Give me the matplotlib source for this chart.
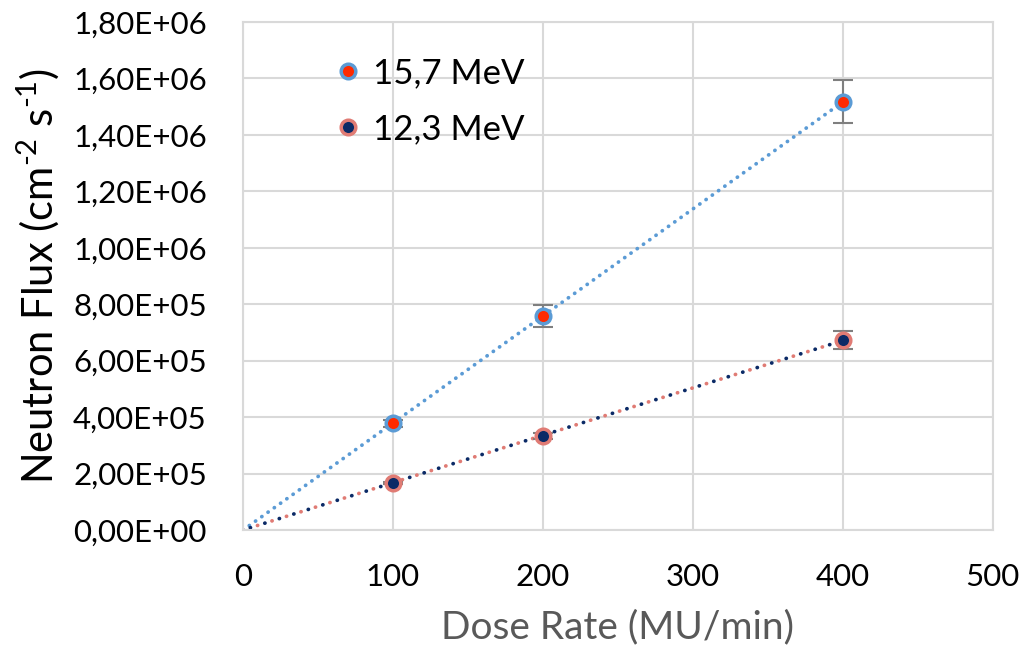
import numpy as np
import matplotlib.pyplot as plt
from matplotlib.lines import Line2D
from matplotlib.ticker import FuncFormatter

# -------------------------------
# Data
# -------------------------------
dose_rate = [100, 200, 400]
flux_157 = [3.78e5, 7.58e5, 1.517e6]
err_157 = [0.12e5, 0.38e5, 0.76e5]
flux_123 = [1.67e5, 3.33e5, 6.73e5]
err_123 = [0.05e5, 0.10e5, 0.33e5]
labels = ["15,7 MeV", "12,3 MeV"]

x_ticks = [0, 100, 200, 300, 400, 500]
y_ticks = np.arange(0, 1.8e6 + 1, 2e5)

plt.rcParams['font.family'] = ['Lato', 'DejaVu Sans']
plt.rcParams['mathtext.fontset'] = 'custom'
plt.rcParams['mathtext.rm'] = 'Lato'

blue = '#5B9BD5'
red = '#FF2A00'
navy = '#0B2A66'
salmon = '#E07B74'
grid = '#D9D9D9'

fig = plt.figure(figsize=(10.34, 6.48), dpi=100)
ax = fig.add_axes([0.235, 0.182, 0.725, 0.784])

# -------------------------------
# Trendlines (linear, through origin)
# -------------------------------
xs = np.array(dose_rate, float)
xt = np.array([0, 400.0])
k1 = np.sum(xs * np.array(flux_157)) / np.sum(xs ** 2)
k2 = np.sum(xs * np.array(flux_123)) / np.sum(xs ** 2)
ax.plot(xt, k1 * xt, color=blue, lw=2.7, ls=(0, (0.05, 2.0)), dash_capstyle='round', zorder=2)
ax.plot(xt, k2 * xt, color=salmon, lw=2.7, ls=(0, (0.05, 4.0)), dash_capstyle='round', zorder=2)
ax.plot(xt, k2 * xt, color=navy, lw=2.7, ls=(2.0, (0.05, 4.0)), dash_capstyle='round', zorder=2)

# -------------------------------
# Points + error bars
# -------------------------------
ax.errorbar(dose_rate, flux_157, yerr=err_157, fmt='none', ecolor='#7F7F7F',
            elinewidth=1.5, capsize=7, capthick=1.5, zorder=3)
ax.errorbar(dose_rate, flux_123, yerr=err_123, fmt='none', ecolor='#7F7F7F',
            elinewidth=1.5, capsize=7, capthick=1.5, zorder=3)
ax.plot(dose_rate, flux_157, 'o', ms=10.5, mfc=red, mec=blue, mew=2.5, zorder=4)
ax.plot(dose_rate, flux_123, 'o', ms=10.5, mfc=navy, mec=salmon, mew=2.5, zorder=4)

# -------------------------------
# Axes
# -------------------------------
ax.set_xlim(0, 500)
ax.set_ylim(0, 1.8e6)
ax.set_xticks(x_ticks)
ax.set_yticks(y_ticks)
ax.yaxis.set_major_formatter(FuncFormatter(lambda v, p: f"{v:.2E}".replace('.', ',')))
ax.grid(True, color=grid, lw=1.5)
ax.set_axisbelow(True)
for s in ax.spines.values():
    s.set_color(grid)
    s.set_linewidth(1.5)
ax.tick_params(length=0, labelsize=22.5, colors='black')
ax.tick_params(axis='y', pad=26)
ax.tick_params(axis='x', pad=24)

ax.set_xlabel("Dose Rate (MU/min)", fontsize=28, color='#595959', labelpad=13)
ax.set_ylabel("Neutron Flux (cm$^{\\mathregular{\u20102}}$ s$^{\\mathregular{\u20101}}$)",
              fontsize=30, labelpad=8)

handles = [
    Line2D([], [], ls='none', marker='o', ms=10.5, mfc=red, mec=blue, mew=2.5),
    Line2D([], [], ls='none', marker='o', ms=10.5, mfc=navy, mec=salmon, mew=2.5),
]
ax.legend(handles, labels, loc='upper left', bbox_to_anchor=(0.085, 0.993), frameon=False,
          fontsize=25, handlelength=0.6, handletextpad=0.4, labelspacing=0.7)

fig.savefig("out.png", dpi=100)
